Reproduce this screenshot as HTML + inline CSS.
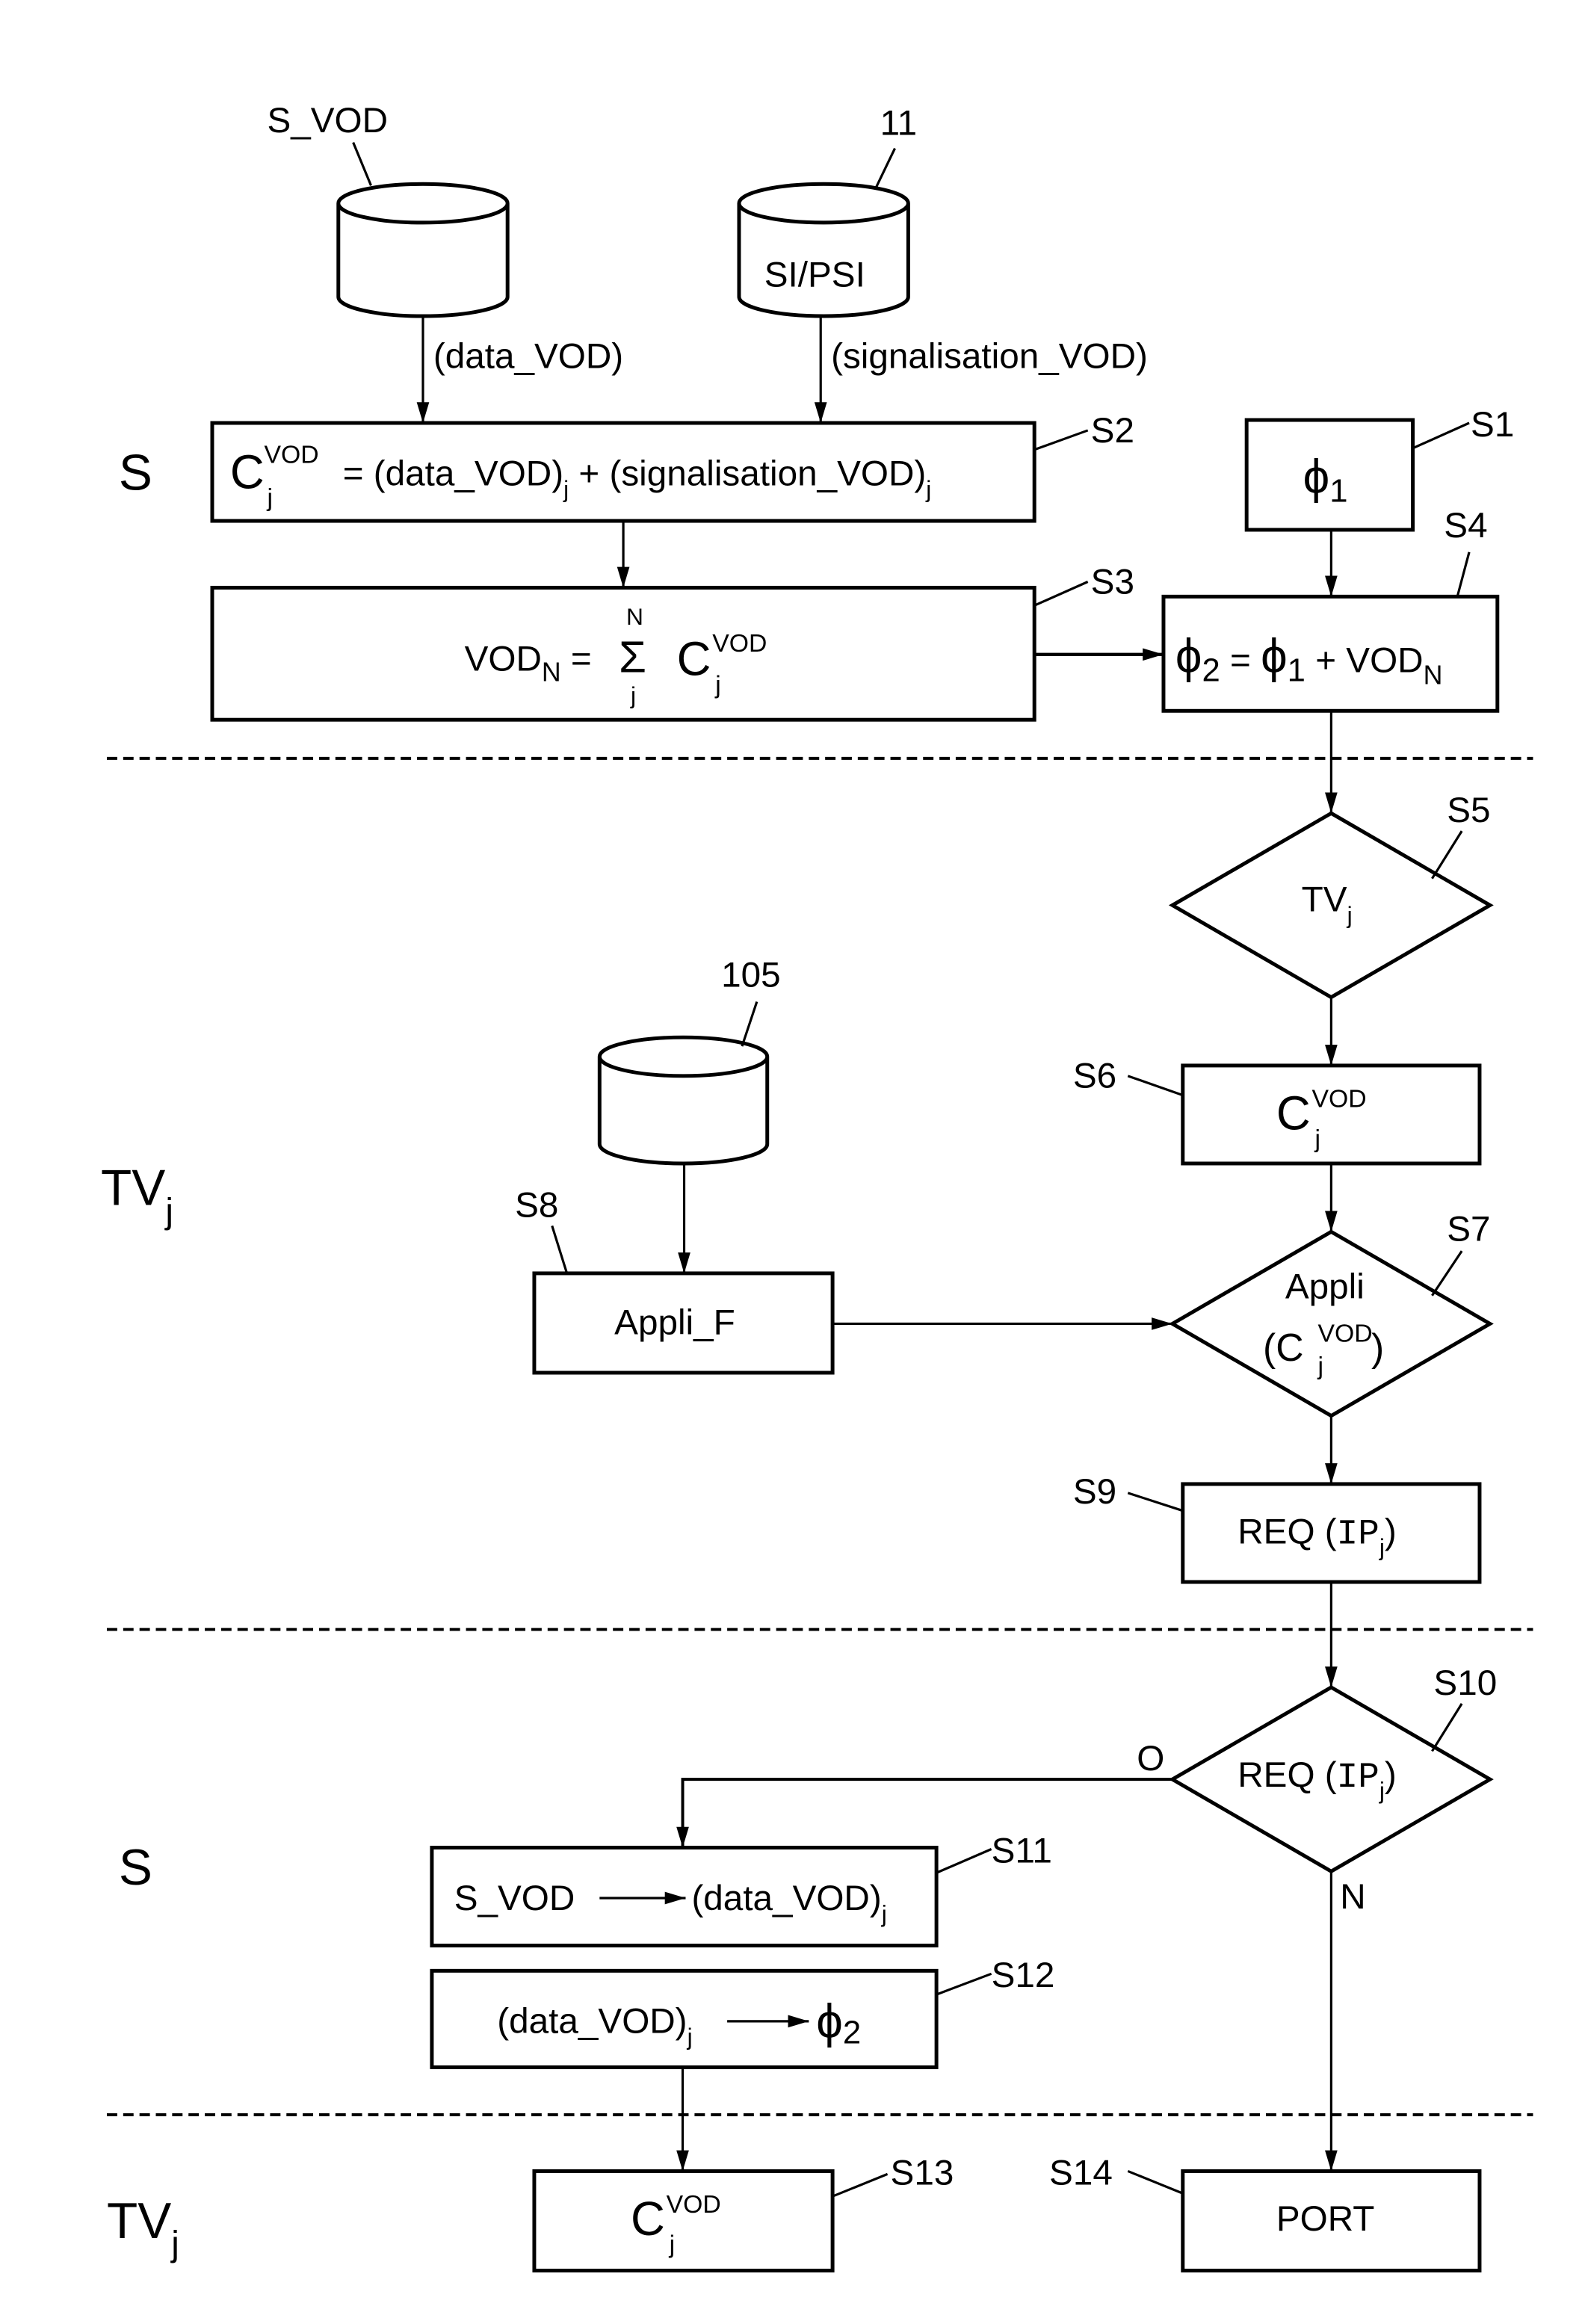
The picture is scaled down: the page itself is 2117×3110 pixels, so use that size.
<!DOCTYPE html>
<html><head><meta charset="utf-8"><style>
html,body{margin:0;padding:0;background:#fff;}
svg{display:block;}
text{font-family:"Liberation Sans",Arial,sans-serif;fill:#000;}
</style></head><body>
<svg width="2117" height="3110" viewBox="0 0 1066 1566" xmlns="http://www.w3.org/2000/svg">
<defs>
<marker id="a" viewBox="0 0 10 10" refX="10" refY="5" markerWidth="14" markerHeight="14" markerUnits="userSpaceOnUse" orient="auto">
<path d="M0,2 L10,5 L0,8 z" fill="#000"/></marker>
</defs>
<g fill="none" stroke="#000">
<g stroke-width="2.5">
<path d="M228,137 A57,13 0 0 1 342,137 A57,13 0 0 1 228,137 L228,200 A57,13 0 0 0 342,200 L342,137"/>
<path d="M498,137 A57,13 0 0 1 612,137 A57,13 0 0 1 498,137 L498,200 A57,13 0 0 0 612,200 L612,137"/>
<path d="M404,712 A56.5,13 0 0 1 517,712 A56.5,13 0 0 1 404,712 L404,771 A56.5,13 0 0 0 517,771 L517,712"/>
<rect x="143" y="285" width="554" height="66"/>
<rect x="840" y="283" width="112" height="74"/>
<rect x="143" y="396" width="554" height="89"/>
<rect x="784" y="402" width="225" height="77"/>
<rect x="797" y="718" width="200" height="66"/>
<rect x="360" y="858" width="201" height="67"/>
<rect x="797" y="1000" width="200" height="66"/>
<rect x="291" y="1245" width="340" height="66"/>
<rect x="291" y="1328" width="340" height="65"/>
<rect x="360" y="1463" width="201" height="67"/>
<rect x="797" y="1463" width="200" height="67"/>
<path d="M897,548 L1004,610 L897,672 L790,610 Z"/>
<path d="M897,830 L1004,892 L897,954 L790,892 Z"/>
<path d="M897,1137 L1004,1199 L897,1261 L790,1199 Z"/>
</g>
<g stroke-width="2" stroke-dasharray="7,4">
<line x1="72" y1="511" x2="1033" y2="511"/>
<line x1="72" y1="1098" x2="1033" y2="1098"/>
<line x1="72" y1="1425" x2="1033" y2="1425"/>
</g>
<g stroke-width="1.6" marker-end="url(#a)">
<line x1="285" y1="213" x2="285" y2="285"/>
<line x1="553" y1="213" x2="553" y2="285"/>
<line x1="420" y1="351" x2="420" y2="396"/>
<line x1="897" y1="357" x2="897" y2="402"/>
<line x1="697" y1="441" x2="784" y2="441" stroke-width="2.2"/>
<line x1="897" y1="479" x2="897" y2="548"/>
<line x1="897" y1="672" x2="897" y2="718"/>
<line x1="897" y1="784" x2="897" y2="830"/>
<line x1="461" y1="784" x2="461" y2="858"/>
<line x1="561" y1="892" x2="790" y2="892"/>
<line x1="897" y1="954" x2="897" y2="1000"/>
<line x1="897" y1="1066" x2="897" y2="1137"/>
<path d="M790,1199 L460,1199 L460,1245" stroke-width="2"/>
<line x1="897" y1="1261" x2="897" y2="1463"/>
<line x1="460" y1="1393" x2="460" y2="1463"/>
<line x1="404" y1="1279" x2="462" y2="1279"/>
<line x1="490" y1="1362" x2="545" y2="1362"/>
</g>
<g stroke-width="1.6">
<line x1="250" y1="125" x2="238" y2="96"/>
<line x1="590" y1="127" x2="603" y2="100"/>
<line x1="697" y1="303" x2="733" y2="290"/>
<line x1="952" y1="302" x2="990" y2="285"/>
<line x1="697" y1="408" x2="733" y2="392"/>
<line x1="982" y1="402" x2="990" y2="372"/>
<line x1="965" y1="592" x2="985" y2="560"/>
<line x1="760" y1="725" x2="797" y2="738"/>
<line x1="965" y1="873" x2="985" y2="843"/>
<line x1="500" y1="705" x2="510" y2="675"/>
<line x1="372" y1="826" x2="382" y2="858"/>
<line x1="760" y1="1006" x2="797" y2="1018"/>
<line x1="965" y1="1180" x2="985" y2="1148"/>
<line x1="631" y1="1262" x2="668" y2="1246"/>
<line x1="631" y1="1344" x2="668" y2="1330"/>
<line x1="561" y1="1480" x2="598" y2="1465"/>
<line x1="760" y1="1463" x2="797" y2="1478"/>
</g>
</g>
<g font-size="24">
<text x="180" y="89">S_VOD</text>
<text x="593" y="91">11</text>
<text x="515" y="193">SI/PSI</text>
<text x="292" y="248">(data_VOD)</text>
<text x="560" y="248">(signalisation_VOD)</text>
<text x="735" y="298">S2</text>
<text x="991" y="294">S1</text>
<text x="735" y="400">S3</text>
<text x="973" y="362">S4</text>
<text x="975" y="554">S5</text>
<text x="723" y="733">S6</text>
<text x="975" y="836">S7</text>
<text x="486" y="665">105</text>
<text x="347" y="820">S8</text>
<text x="723" y="1013">S9</text>
<text x="966" y="1142">S10</text>
<text x="766" y="1193">O</text>
<text x="903" y="1286">N</text>
<text x="668" y="1255">S11</text>
<text x="668" y="1339">S12</text>
<text x="600" y="1472">S13</text>
<text x="707" y="1472">S14</text>
</g>
<g font-size="34">
<text x="80" y="330">S</text>
<text x="80" y="1270">S</text>
<text x="68" y="812">TV<tspan font-size="24" dy="12">j</tspan></text>
<text x="72" y="1508">TV<tspan font-size="24" dy="12">j</tspan></text>
</g>
<text x="155" y="329" font-size="32">C</text>
<text x="178" y="312" font-size="17">VOD</text>
<text x="180" y="341" font-size="17">j</text>
<text x="231" y="327" font-size="24">= (data_VOD)<tspan font-size="16" dy="8">j</tspan><tspan dy="-8"> + (signalisation_VOD)</tspan><tspan font-size="16" dy="8">j</tspan></text>
<text x="878" y="332" font-size="32">ϕ<tspan font-size="22" dy="6">1</tspan></text>
<text x="313" y="452" font-size="24">VOD<tspan font-size="18" dy="7">N</tspan><tspan dy="-7"> =</tspan></text>
<text x="417" y="453" font-size="30">Σ</text>
<text x="422" y="421" font-size="16">N</text>
<text x="425" y="474" font-size="16">j</text>
<text x="456" y="455" font-size="32">C</text>
<text x="480" y="439" font-size="17">VOD</text>
<text x="482" y="467" font-size="17">j</text>
<text x="792" y="453" font-size="32">ϕ<tspan font-size="22" dy="6">2</tspan><tspan font-size="24" dy="-6"> = </tspan>ϕ<tspan font-size="22" dy="6">1</tspan><tspan font-size="24" dy="-6"> + VOD</tspan><tspan font-size="18" dy="8">N</tspan></text>
<text x="877" y="614" font-size="24">TV<tspan font-size="16" dy="8">j</tspan></text>
<text x="860" y="761" font-size="32">C</text>
<text x="884" y="746" font-size="17">VOD</text>
<text x="886" y="773" font-size="17">j</text>
<text x="866" y="875" font-size="24">Appli</text>
<text x="851" y="917" font-size="26">(C</text>
<text x="888" y="904" font-size="17">VOD</text>
<text x="888" y="926" font-size="17">j</text>
<text x="924" y="917" font-size="26">)</text>
<text x="414" y="899" font-size="24">Appli_F</text>
<text x="834" y="1040" font-size="24">REQ (<tspan font-family="Liberation Mono,monospace">IP</tspan><tspan font-size="16" dy="8">j</tspan><tspan dy="-8">)</tspan></text>
<text x="834" y="1204" font-size="24">REQ (<tspan font-family="Liberation Mono,monospace">IP</tspan><tspan font-size="16" dy="8">j</tspan><tspan dy="-8">)</tspan></text>
<text x="306" y="1287" font-size="24">S_VOD</text>
<text x="466" y="1287" font-size="24">(data_VOD)<tspan font-size="16" dy="8">j</tspan></text>
<text x="335" y="1370" font-size="24">(data_VOD)<tspan font-size="16" dy="8">j</tspan></text>
<text x="550" y="1373" font-size="32">ϕ<tspan font-size="22" dy="4">2</tspan></text>
<text x="425" y="1506" font-size="32">C</text>
<text x="449" y="1491" font-size="17">VOD</text>
<text x="451" y="1518" font-size="17">j</text>
<text x="860" y="1503" font-size="24">PORT</text>
</svg>
</body></html>
